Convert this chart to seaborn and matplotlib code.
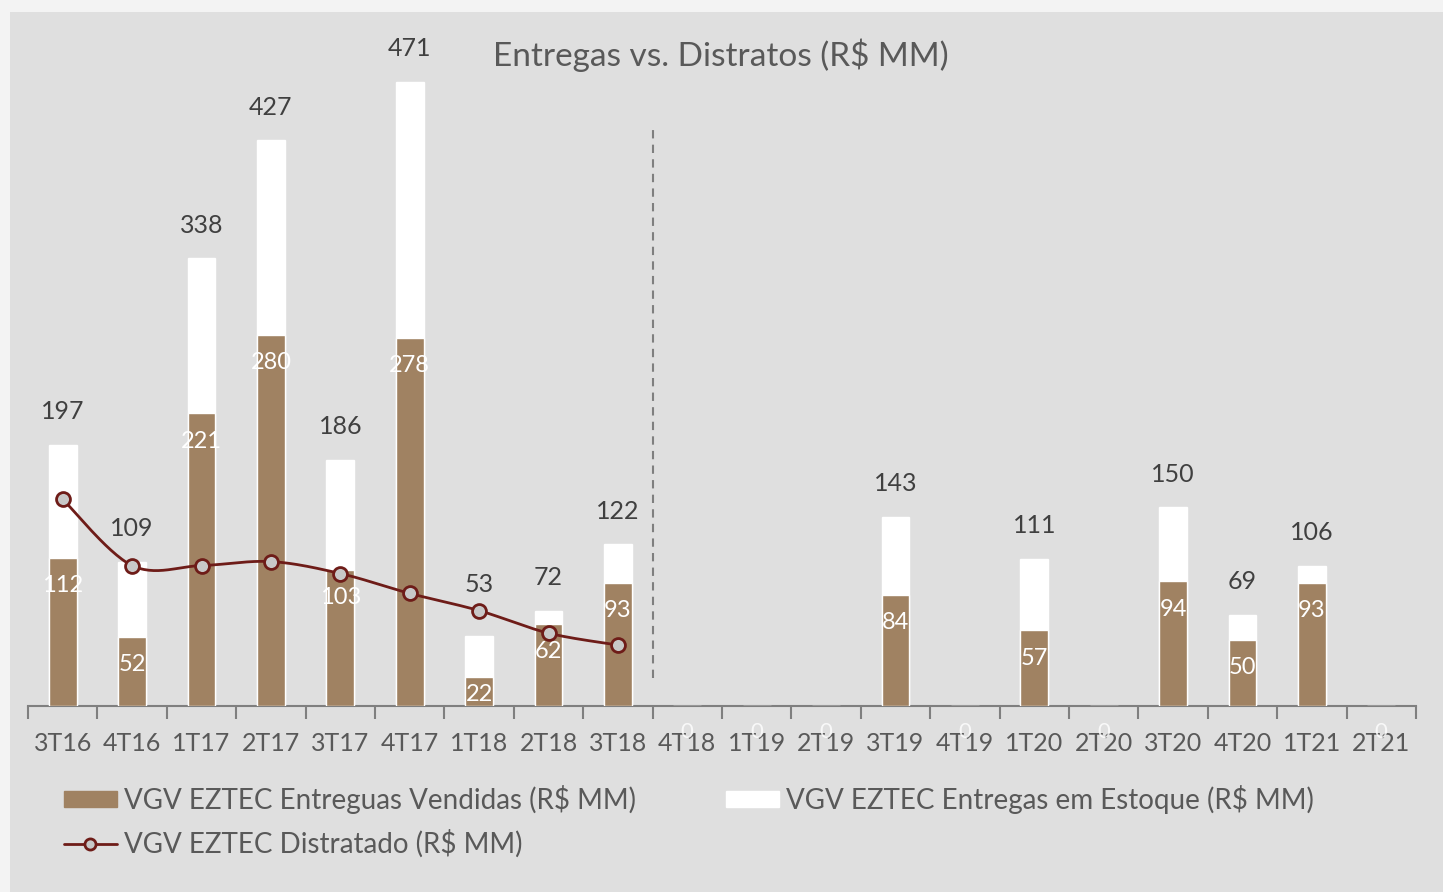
import numpy as np
import pandas as pd
import matplotlib.pyplot as plt
import matplotlib.patches as mpatches
from matplotlib.lines import Line2D
import seaborn as sns

# data
quarters = ['3T16', '4T16', '1T17', '2T17', '3T17', '4T17', '1T18', '2T18', '3T18', '4T18',
            '1T19', '2T19', '3T19', '4T19', '1T20', '2T20', '3T20', '4T20', '1T21', '2T21']
vendidas = [112, 52, 221, 280, 103, 278, 22, 62, 93, 0, 0, 0, 84, 0, 57, 0, 94, 50, 93, 0]
totais = [197, 109, 338, 427, 186, 471, 53, 72, 122, 0, 0, 0, 143, 0, 111, 0, 150, 69, 106, 0]
distratos = [156, 106, 106, 109, 100, 85, 72, 55, 46]

BROWN = '#a08262'
MAROON = '#6e1c18'
GREY_TXT = '#595959'
BG = '#dfdfdf'

sns.set_theme(style='white')
plt.rcParams['font.family'] = ['Lato', 'DejaVu Sans']

df = pd.DataFrame({'quarter': quarters, 'vendidas': vendidas, 'total': totais})

fig = plt.figure(figsize=(14.43, 8.92), dpi=100, facecolor='#f3f3f3')
fig.patches.append(mpatches.Rectangle((10 / 1443, 0), 1, 1 - 12 / 892, transform=fig.transFigure,
                                      facecolor=BG, edgecolor='none', zorder=-10))
ax = fig.add_axes([28 / 1443, 186 / 892, 1388 / 1443, 662.5 / 892])
ax.set_zorder(2)
ax.set_facecolor('none')

# stacked bars: total in white behind, sold part in brown on top
sns.barplot(data=df, x='quarter', y='total', color='white', width=0.4, saturation=1, ax=ax, zorder=2)
sns.barplot(data=df, x='quarter', y='vendidas', color=BROWN, width=0.4, saturation=1, ax=ax, zorder=3)

# smoothed distrato line (bezier like the spreadsheet smoothing)
xs = np.arange(len(distratos), dtype=float)
ys = np.array(distratos, dtype=float)
px = np.concatenate([[xs[0]], xs, [xs[-1]]])
py = np.concatenate([[ys[0]], ys, [ys[-1]]])
cx, cy = [], []
t = np.linspace(0, 1, 30)
for i in range(1, len(xs)):
    p0 = np.array([px[i], py[i]]); p1 = np.array([px[i + 1], py[i + 1]])
    c1 = p0 + (p1 - np.array([px[i - 1], py[i - 1]])) / 6
    c2 = p1 - (np.array([px[i + 2], py[i + 2]]) - p0) / 6
    b = ((1 - t) ** 3)[:, None] * p0 + (3 * (1 - t) ** 2 * t)[:, None] * c1 \
        + (3 * (1 - t) * t ** 2)[:, None] * c2 + (t ** 3)[:, None] * p1
    cx.extend(b[:, 0]); cy.extend(b[:, 1])
ax.plot(cx, cy, color=MAROON, lw=2, zorder=4)
sns.scatterplot(x=xs, y=ys, ax=ax, s=100, color='#c8c8c8', edgecolor=MAROON, linewidth=2, zorder=5)

# labels (the 1T18 total label sits a bit higher, clear of the line)
for i, (v, tot) in enumerate(zip(vendidas, totais)):
    if tot > 0:
        off = 39 if quarters[i] == '1T18' else 25
        ax.text(i, tot + off, str(tot), ha='center', va='center', fontsize=18, color='#404040', zorder=6)
    if v > 0:
        ax.text(i, max(v - 21, v / 2 - 2), str(v), ha='center', va='center', fontsize=17, color='white',
                zorder=6)
    else:
        ax.text(i, -20, '0', ha='center', va='center', fontsize=16, color='white', alpha=0.8, zorder=1,
                clip_on=False)

ax.vlines(8.5, 21, 437, colors='#7f7f7f', linestyles=(0, (4, 3)), lw=1.5, zorder=1)

ax.set_xlim(-0.5, len(quarters) - 0.5)
ax.set_ylim(0, 500)
ax.set_yticks([])
ax.set_xlabel('')
ax.set_ylabel('')
for s in ['top', 'right', 'left']:
    ax.spines[s].set_visible(False)
ax.spines['bottom'].set_color('#7f7f7f')
ax.spines['bottom'].set_linewidth(1.5)
ax.set_xticks(np.arange(len(quarters)))
ax.set_xticklabels(quarters)
ax.tick_params(axis='x', which='major', length=0, labelsize=18, labelcolor=GREY_TXT, pad=19)
ax.set_xticks(np.arange(-0.5, len(quarters)), minor=True)
ax.tick_params(axis='x', which='minor', bottom=True, length=9, width=1.5, color='#7f7f7f', direction='out')

fig.text(721 / 1443, 1 - 55 / 892, 'Entregas vs. Distratos (R$ MM)', ha='center', va='center',
         fontsize=24, color=GREY_TXT)

handles = [mpatches.Patch(color=BROWN, label='VGV EZTEC Entreguas Vendidas (R$ MM)'),
           Line2D([0], [0], color=MAROON, lw=2, marker='o', markersize=8, markerfacecolor='#c8c8c8',
                  markeredgecolor=MAROON, markeredgewidth=2, label='VGV EZTEC Distratado (R$ MM)'),
           mpatches.Patch(color='white', label='VGV EZTEC Entregas em Estoque (R$ MM)')]
fig.legend(handles=handles, ncol=2, loc='upper left', bbox_to_anchor=(39 / 1443, 1 - 760 / 892),
           frameon=False, fontsize=20, labelcolor=GREY_TXT, handlelength=1.9, handleheight=0.5,
           handletextpad=0.25, columnspacing=3.25, labelspacing=0.57)

fig.savefig('out.png', dpi=100, facecolor=fig.get_facecolor())
